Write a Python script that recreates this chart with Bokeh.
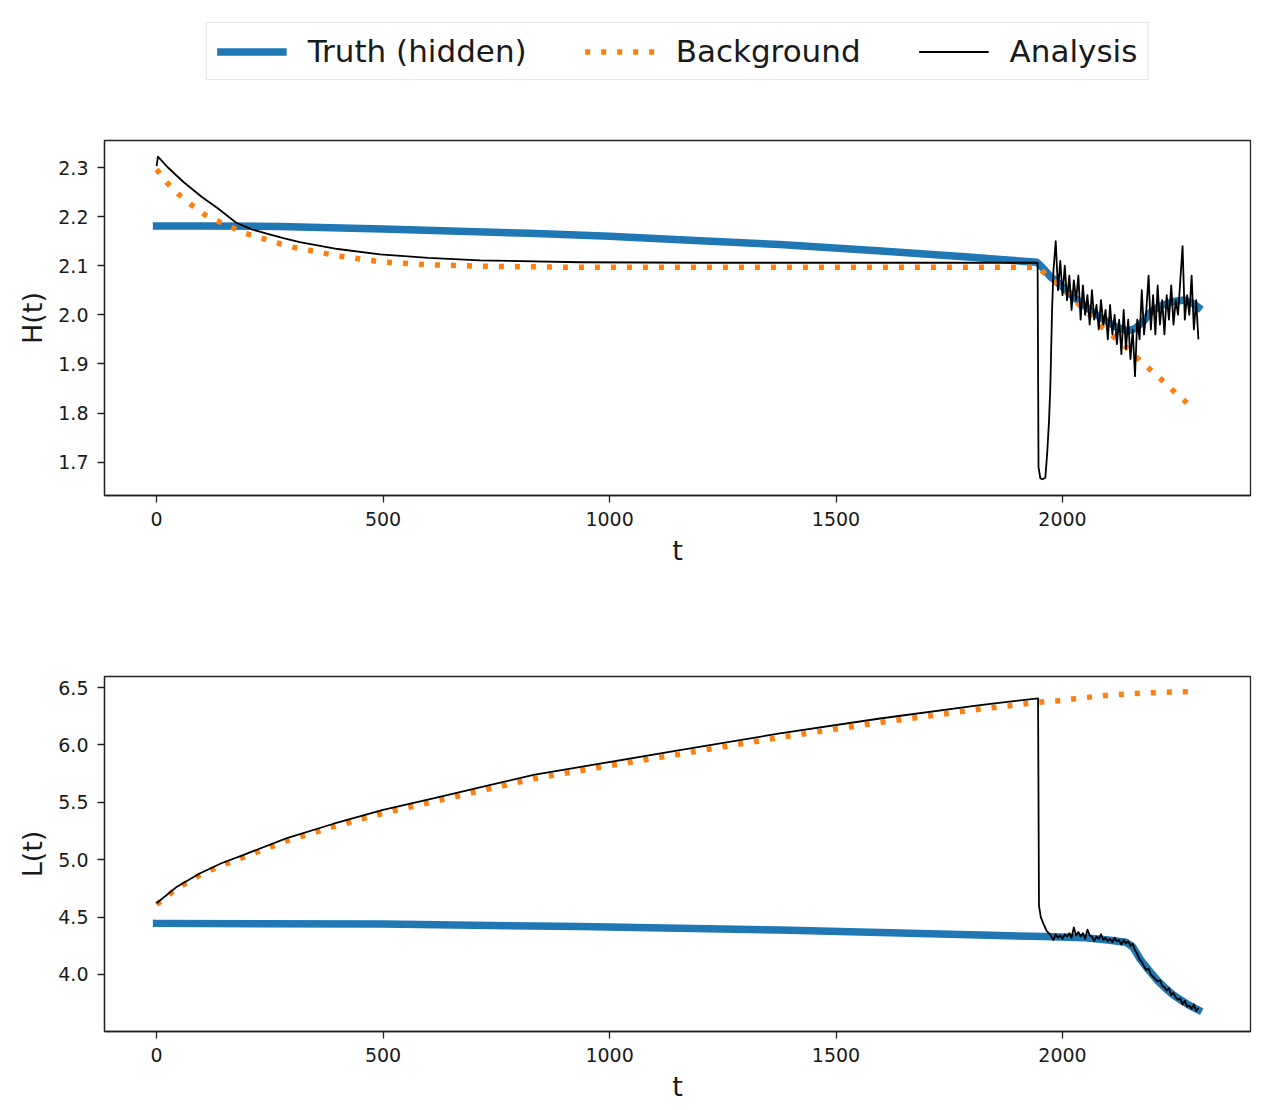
from bokeh.plotting import figure
from bokeh.layouts import column
from bokeh.models import Range1d, FixedTicker, PrintfTickFormatter, Legend, LegendItem
from bokeh.embed import file_html
from bokeh.resources import INLINE

BLUE = "#1f77b4"
ORANGE = "#ff7f0e"
BLACK = "#000000"

# ---------------- data ----------------
x_ticks = [0, 500, 1000, 1500, 2000]
h_ticks = [1.7, 1.8, 1.9, 2.0, 2.1, 2.2, 2.3]
l_ticks = [4.0, 4.5, 5.0, 5.5, 6.0, 6.5]

# H(t) panel
t_truth_H = [0, 100, 272, 500, 824, 1000, 1200, 1376, 1600, 1800, 1944, 1960, 1973, 1990,
             2010, 2030, 2046, 2070, 2100, 2120, 2143, 2160, 2180, 2194, 2215, 2245, 2270,
             2290, 2300]
truth_H = [2.181, 2.181, 2.180, 2.175, 2.166, 2.160, 2.151, 2.143, 2.130, 2.117, 2.107, 2.092,
           2.078, 2.065, 2.048, 2.032, 2.021, 2.003, 1.985, 1.975, 1.967, 1.972, 1.988, 2.005,
           2.018, 2.027, 2.030, 2.022, 2.015]

t_bg_H = [0, 24, 49, 75, 106, 137, 171, 203, 239, 272, 305, 400, 493, 600, 714, 900, 1200,
          1500, 1800, 1947, 1962, 1988, 2040, 2090, 2117, 2146, 2173, 2200, 2227, 2253, 2290]
bg_H = [2.296, 2.268, 2.245, 2.225, 2.204, 2.190, 2.176, 2.164, 2.154, 2.145, 2.137, 2.120,
        2.108, 2.102, 2.099, 2.097, 2.097, 2.097, 2.097, 2.097, 2.083, 2.064, 2.018, 1.973,
        1.952, 1.930, 1.905, 1.883, 1.861, 1.838, 1.808]

t_an_H_smooth = [0, 3, 25, 60, 100, 135, 175, 210, 245, 280, 316, 400, 493, 600, 714, 935,
                 1200, 1500, 1800, 1945, 1947, 1951, 1956, 1962, 1966, 1970, 1973, 1977]
an_H_smooth = [2.303, 2.322, 2.300, 2.270, 2.240, 2.217, 2.188, 2.174, 2.165, 2.156, 2.148,
               2.134, 2.123, 2.116, 2.111, 2.107, 2.106, 2.106, 2.106, 2.106, 1.690, 1.667,
               1.665, 1.668, 1.716, 1.780, 1.851, 2.013]
t_noise = list(range(1980, 2301, 5))
an_H_noise = [2.09, 2.15, 2.05, 2.11, 2.04, 2.10, 2.03, 2.08, 2.01, 2.07,
              2.03, 2.08, 1.99, 2.06, 2.00, 2.04, 1.98, 2.05, 1.99, 2.02,
              1.97, 2.03, 1.98, 2.01, 1.95, 2.02, 1.96, 2.00, 1.94, 1.99,
              1.92, 2.01, 1.93, 1.99, 1.91, 1.97, 1.875, 1.99, 1.95, 2.05,
              1.96, 2.01, 2.08, 1.97, 2.04, 1.96, 2.06, 1.98, 2.03, 1.96,
              2.04, 1.99, 2.06, 1.98, 2.03, 2.00, 2.07, 2.14, 1.99, 2.04,
              2.00, 2.08, 1.97, 2.03, 1.95]

# L(t) panel
t_truth_L = [0, 500, 934, 1376, 1818, 1958, 2050, 2100, 2140, 2155, 2172, 2190, 2209, 2230,
             2245, 2260, 2280, 2300]
truth_L = [4.445, 4.440, 4.417, 4.388, 4.344, 4.330, 4.320, 4.300, 4.280, 4.240, 4.130, 4.040,
           3.950, 3.870, 3.820, 3.780, 3.730, 3.690]

t_bg_L = [0, 45, 95, 143, 191, 286, 389, 500, 611, 721, 832, 979, 1155, 1376, 1597, 1818,
          1958, 1995, 2032, 2105, 2172, 2240, 2290]
bg_L = [4.610, 4.750, 4.865, 4.950, 5.020, 5.163, 5.285, 5.405, 5.505, 5.605, 5.705, 5.805,
        5.920, 6.065, 6.195, 6.312, 6.376, 6.385, 6.405, 6.435, 6.450, 6.460, 6.465]

t_an_L_smooth = [0, 45, 95, 143, 191, 286, 389, 500, 611, 721, 832, 979, 1155, 1376, 1597,
                 1818, 1946, 1948, 1952, 1958, 1965, 1972, 1977]
an_L_smooth = [4.620, 4.765, 4.880, 4.969, 5.040, 5.186, 5.311, 5.433, 5.535, 5.636, 5.738,
               5.836, 5.955, 6.100, 6.230, 6.347, 6.406, 4.600, 4.500, 4.440, 4.380, 4.350,
               4.320]
an_L_noise = [4.30, 4.35, 4.32, 4.34, 4.31, 4.35, 4.33, 4.36, 4.32, 4.41,
              4.34, 4.37, 4.33, 4.36, 4.31, 4.39, 4.34, 4.33, 4.29, 4.33,
              4.31, 4.35, 4.30, 4.32, 4.29, 4.31, 4.28, 4.32, 4.29, 4.30,
              4.26, 4.30, 4.27, 4.29, 4.25, 4.27, 4.21, 4.18, 4.13, 4.11,
              4.07, 4.04, 4.05, 4.00, 3.98, 3.96, 3.94, 3.95, 3.90, 3.89,
              3.86, 3.88, 3.82, 3.84, 3.80, 3.78, 3.79, 3.74, 3.77, 3.72,
              3.73, 3.70, 3.74, 3.68, 3.71]

labels = ["Truth (hidden)", "Background", "Analysis"]

# ---------------- styles ----------------
FONT = "DejaVu Sans"
TEXT = "#1a1a1a"
W = 1264
BL, BR = 104, 14


def make_panel(height, top, bottom, ylab, yticks, yr):
    p = figure(width=W, height=height, x_range=Range1d(-115, 2415), y_range=Range1d(*yr),
               toolbar_location=None, output_backend="svg",
               min_border_left=BL, min_border_right=BR,
               min_border_top=top, min_border_bottom=bottom,
               outline_line_color="#222222", outline_line_width=1.3,
               background_fill_color="white", border_fill_color="white")
    p.xgrid.grid_line_color = None
    p.ygrid.grid_line_color = None
    p.xaxis.ticker = FixedTicker(ticks=x_ticks)
    p.yaxis.ticker = FixedTicker(ticks=yticks)
    p.xaxis.formatter = PrintfTickFormatter(format="%d")
    p.yaxis.formatter = PrintfTickFormatter(format="%.1f")
    p.xaxis.axis_label = "t"
    p.yaxis.axis_label = ylab
    for ax in (p.xaxis, p.yaxis):
        ax.axis_line_color = "#222222"
        ax.axis_line_width = 1.3
        ax.major_tick_line_color = "#222222"
        ax.major_tick_line_width = 1.3
        ax.major_tick_out = 7
        ax.major_tick_in = 0
        ax.minor_tick_line_color = None
        ax.major_label_text_font = FONT
        ax.major_label_text_font_size = "19px"
        ax.major_label_text_color = TEXT
        ax.axis_label_text_font = FONT
        ax.axis_label_text_font_size = "27px"
        ax.axis_label_text_font_style = "normal"
        ax.axis_label_text_color = TEXT
    p.xaxis.major_label_standoff = 9
    p.xaxis.axis_label_standoff = 6
    p.yaxis.major_label_standoff = 9
    p.yaxis.axis_label_standoff = 7
    return p


def draw(p, tt, truth, tb, bg, ta, an):
    p.line(tt, truth, line_color=BLUE, line_width=7.5, line_cap="square")
    p.line(tb, bg, line_color=ORANGE, line_width=5.5, line_dash="5 11")
    p.line(ta, an, line_color=BLACK, line_width=1.8, line_join="round")


# legend strip: proxy renderers of the same styles, kept outside its visible range
lf = figure(width=W, height=118, x_range=Range1d(-115, 2415), y_range=Range1d(10, 11),
            toolbar_location=None, output_backend="svg",
            min_border_left=BL, min_border_right=BR, min_border_top=22, min_border_bottom=0,
            x_axis_location=None, y_axis_location=None, outline_line_color=None)
lf.xgrid.grid_line_color = None
lf.ygrid.grid_line_color = None
r1 = lf.line(t_truth_H, truth_H, line_color=BLUE, line_width=7.5)
r2 = lf.line(t_bg_H, bg_H, line_color=ORANGE, line_width=5.5, line_dash="5 11")
r3 = lf.line(t_an_H_smooth, an_H_smooth, line_color=BLACK, line_width=1.8)
legend = Legend(items=[LegendItem(label=labels[0], renderers=[r1]),
                       LegendItem(label=labels[1], renderers=[r2]),
                       LegendItem(label=labels[2], renderers=[r3])],
                orientation="horizontal", location="top_center", margin=0,
                padding=10, spacing=58, glyph_width=70, glyph_height=35, label_height=35,
                label_standoff=21, label_text_font=FONT, label_text_font_size="31px",
                label_text_color=TEXT, border_line_color="#cccccc", border_line_width=1.3,
                background_fill_color="white", background_fill_alpha=1.0)
lf.add_layout(legend, "center")

top = make_panel(477, 22, 100, "H(t)", h_ticks, (1.632, 2.355))
draw(top, t_truth_H, truth_H, t_bg_H, bg_H,
     t_an_H_smooth + t_noise, an_H_smooth + an_H_noise)

bot = make_panel(510, 81, 74, "L(t)", l_ticks, (3.503, 6.596))
draw(bot, t_truth_L, truth_L, t_bg_L, bg_L,
     t_an_L_smooth + t_noise, an_L_smooth + an_L_noise)

layout = column(lf, top, bot)
open("out.html", "w").write(file_html(layout, INLINE))
